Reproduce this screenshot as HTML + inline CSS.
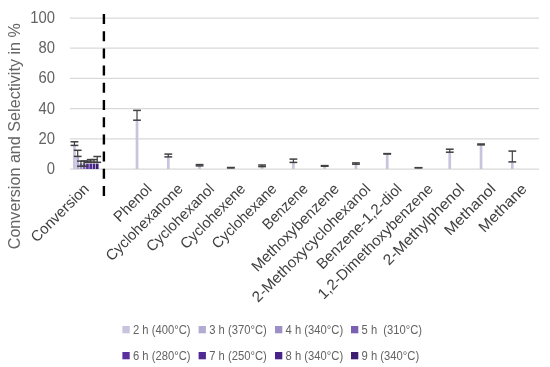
<!DOCTYPE html>
<html><head><meta charset="utf-8"><style>
html,body{margin:0;padding:0;background:#fff;}
svg{display:block;}
text{filter:grayscale(1);}
text{font-family:"Liberation Sans",sans-serif;fill:#595959;}
.tk{font-size:16px;fill:#636363;}
.yt{font-size:16px;fill:#666;}
.cl{font-size:15px;fill:#404040;}
.lg{font-size:12px;fill:#636363;}
</style></head><body>
<svg width="550" height="367" viewBox="0 0 550 367">
<rect width="550" height="367" fill="#fff"/>
<line x1="69.90" y1="18.00" x2="539.02" y2="18.00" stroke="#d9d9d9" stroke-width="1.25"/>
<line x1="69.90" y1="48.20" x2="539.02" y2="48.20" stroke="#d9d9d9" stroke-width="1.25"/>
<line x1="69.90" y1="78.40" x2="539.02" y2="78.40" stroke="#d9d9d9" stroke-width="1.25"/>
<line x1="69.90" y1="108.60" x2="539.02" y2="108.60" stroke="#d9d9d9" stroke-width="1.25"/>
<line x1="69.90" y1="138.80" x2="539.02" y2="138.80" stroke="#d9d9d9" stroke-width="1.25"/>
<line x1="69.90" y1="169.00" x2="539.02" y2="169.00" stroke="#d9d9d9" stroke-width="1.25"/>
<text x="55.0" y="23.00" text-anchor="end" class="tk" textLength="24.71" lengthAdjust="spacingAndGlyphs">100</text>
<text x="55.0" y="53.20" text-anchor="end" class="tk" textLength="16.47" lengthAdjust="spacingAndGlyphs">80</text>
<text x="55.0" y="83.40" text-anchor="end" class="tk" textLength="16.47" lengthAdjust="spacingAndGlyphs">60</text>
<text x="55.0" y="113.60" text-anchor="end" class="tk" textLength="16.47" lengthAdjust="spacingAndGlyphs">40</text>
<text x="55.0" y="143.80" text-anchor="end" class="tk" textLength="16.47" lengthAdjust="spacingAndGlyphs">20</text>
<text x="55.0" y="174.00" text-anchor="end" class="tk" textLength="8.24" lengthAdjust="spacingAndGlyphs">0</text>
<rect x="73.11" y="145.60" width="2.70" height="23.40" fill="#c8c4dd"/>
<rect x="76.36" y="156.60" width="2.70" height="12.40" fill="#b3acd2"/>
<rect x="79.61" y="163.40" width="2.70" height="5.60" fill="#9b8fc5"/>
<rect x="82.86" y="163.40" width="2.70" height="5.60" fill="#7a60b1"/>
<rect x="86.11" y="163.60" width="2.70" height="5.40" fill="#5b2f9d"/>
<rect x="89.36" y="163.60" width="2.70" height="5.40" fill="#512995"/>
<rect x="92.61" y="163.60" width="2.70" height="5.40" fill="#48248a"/>
<rect x="95.86" y="163.60" width="2.70" height="5.40" fill="#3c1d70"/>
<line x1="74.46" y1="141.80" x2="74.46" y2="145.40" stroke="#404040" stroke-width="1.2"/>
<line x1="70.56" y1="141.80" x2="78.36" y2="141.80" stroke="#404040" stroke-width="1.5"/>
<line x1="70.56" y1="145.40" x2="78.36" y2="145.40" stroke="#404040" stroke-width="1.5"/>
<line x1="77.71" y1="150.30" x2="77.71" y2="156.40" stroke="#404040" stroke-width="1.2"/>
<line x1="73.81" y1="150.30" x2="81.61" y2="150.30" stroke="#404040" stroke-width="1.5"/>
<line x1="73.81" y1="156.40" x2="81.61" y2="156.40" stroke="#404040" stroke-width="1.5"/>
<line x1="80.96" y1="161.10" x2="80.96" y2="166.20" stroke="#404040" stroke-width="1.2"/>
<line x1="77.06" y1="161.10" x2="84.86" y2="161.10" stroke="#404040" stroke-width="1.5"/>
<line x1="77.06" y1="166.20" x2="84.86" y2="166.20" stroke="#404040" stroke-width="1.5"/>
<line x1="84.21" y1="161.10" x2="84.21" y2="166.20" stroke="#404040" stroke-width="1.2"/>
<line x1="80.31" y1="161.10" x2="88.11" y2="161.10" stroke="#404040" stroke-width="1.5"/>
<line x1="80.31" y1="166.20" x2="88.11" y2="166.20" stroke="#404040" stroke-width="1.5"/>
<line x1="87.46" y1="161.10" x2="87.46" y2="162.30" stroke="#404040" stroke-width="1.2"/>
<line x1="83.56" y1="161.10" x2="91.36" y2="161.10" stroke="#404040" stroke-width="1.5"/>
<line x1="83.56" y1="162.30" x2="91.36" y2="162.30" stroke="#404040" stroke-width="1.5"/>
<line x1="90.71" y1="159.60" x2="90.71" y2="162.30" stroke="#404040" stroke-width="1.2"/>
<line x1="86.81" y1="159.60" x2="94.61" y2="159.60" stroke="#404040" stroke-width="1.5"/>
<line x1="86.81" y1="162.30" x2="94.61" y2="162.30" stroke="#404040" stroke-width="1.5"/>
<line x1="93.96" y1="159.60" x2="93.96" y2="162.30" stroke="#404040" stroke-width="1.2"/>
<line x1="90.06" y1="159.60" x2="97.86" y2="159.60" stroke="#404040" stroke-width="1.5"/>
<line x1="90.06" y1="162.30" x2="97.86" y2="162.30" stroke="#404040" stroke-width="1.5"/>
<line x1="97.21" y1="156.50" x2="97.21" y2="162.30" stroke="#404040" stroke-width="1.2"/>
<line x1="93.31" y1="156.50" x2="101.11" y2="156.50" stroke="#404040" stroke-width="1.5"/>
<line x1="93.31" y1="162.30" x2="101.11" y2="162.30" stroke="#404040" stroke-width="1.5"/>
<rect x="135.66" y="120.50" width="2.70" height="48.50" fill="#c8c4dd"/>
<line x1="137.01" y1="110.40" x2="137.01" y2="120.20" stroke="#404040" stroke-width="1.2"/>
<line x1="133.11" y1="110.40" x2="140.91" y2="110.40" stroke="#404040" stroke-width="1.5"/>
<line x1="133.11" y1="120.20" x2="140.91" y2="120.20" stroke="#404040" stroke-width="1.5"/>
<rect x="166.94" y="157.30" width="2.70" height="11.70" fill="#c8c4dd"/>
<line x1="168.29" y1="154.10" x2="168.29" y2="156.90" stroke="#404040" stroke-width="1.2"/>
<line x1="164.39" y1="154.10" x2="172.19" y2="154.10" stroke="#404040" stroke-width="1.5"/>
<line x1="164.39" y1="156.90" x2="172.19" y2="156.90" stroke="#404040" stroke-width="1.5"/>
<rect x="198.21" y="166.30" width="2.70" height="2.70" fill="#c8c4dd"/>
<line x1="199.56" y1="164.60" x2="199.56" y2="165.90" stroke="#404040" stroke-width="1.2"/>
<line x1="195.66" y1="164.60" x2="203.46" y2="164.60" stroke="#404040" stroke-width="1.5"/>
<line x1="195.66" y1="165.90" x2="203.46" y2="165.90" stroke="#404040" stroke-width="1.5"/>
<rect x="229.49" y="168.20" width="2.70" height="0.80" fill="#c8c4dd"/>
<line x1="230.84" y1="167.50" x2="230.84" y2="167.90" stroke="#404040" stroke-width="1.2"/>
<line x1="226.94" y1="167.50" x2="234.74" y2="167.50" stroke="#404040" stroke-width="1.5"/>
<line x1="226.94" y1="167.90" x2="234.74" y2="167.90" stroke="#404040" stroke-width="1.5"/>
<rect x="260.76" y="166.90" width="2.70" height="2.10" fill="#c8c4dd"/>
<line x1="262.11" y1="165.00" x2="262.11" y2="166.60" stroke="#404040" stroke-width="1.2"/>
<line x1="258.21" y1="165.00" x2="266.01" y2="165.00" stroke="#404040" stroke-width="1.5"/>
<line x1="258.21" y1="166.60" x2="266.01" y2="166.60" stroke="#404040" stroke-width="1.5"/>
<rect x="292.04" y="162.80" width="2.70" height="6.20" fill="#c8c4dd"/>
<line x1="293.39" y1="159.10" x2="293.39" y2="162.40" stroke="#404040" stroke-width="1.2"/>
<line x1="289.49" y1="159.10" x2="297.29" y2="159.10" stroke="#404040" stroke-width="1.5"/>
<line x1="289.49" y1="162.40" x2="297.29" y2="162.40" stroke="#404040" stroke-width="1.5"/>
<rect x="323.31" y="166.60" width="2.70" height="2.40" fill="#c8c4dd"/>
<line x1="324.66" y1="165.60" x2="324.66" y2="166.20" stroke="#404040" stroke-width="1.2"/>
<line x1="320.76" y1="165.60" x2="328.56" y2="165.60" stroke="#404040" stroke-width="1.5"/>
<line x1="320.76" y1="166.20" x2="328.56" y2="166.20" stroke="#404040" stroke-width="1.5"/>
<rect x="354.59" y="164.60" width="2.70" height="4.40" fill="#c8c4dd"/>
<line x1="355.94" y1="162.90" x2="355.94" y2="164.20" stroke="#404040" stroke-width="1.2"/>
<line x1="352.04" y1="162.90" x2="359.84" y2="162.90" stroke="#404040" stroke-width="1.5"/>
<line x1="352.04" y1="164.20" x2="359.84" y2="164.20" stroke="#404040" stroke-width="1.5"/>
<rect x="385.86" y="154.40" width="2.70" height="14.60" fill="#c8c4dd"/>
<line x1="387.21" y1="153.60" x2="387.21" y2="154.00" stroke="#404040" stroke-width="1.2"/>
<line x1="383.31" y1="153.60" x2="391.11" y2="153.60" stroke="#404040" stroke-width="1.5"/>
<line x1="383.31" y1="154.00" x2="391.11" y2="154.00" stroke="#404040" stroke-width="1.5"/>
<rect x="417.14" y="168.20" width="2.70" height="0.80" fill="#c8c4dd"/>
<line x1="418.49" y1="167.70" x2="418.49" y2="167.70" stroke="#404040" stroke-width="1.2"/>
<line x1="414.59" y1="167.70" x2="422.39" y2="167.70" stroke="#404040" stroke-width="1.5"/>
<line x1="414.59" y1="167.70" x2="422.39" y2="167.70" stroke="#404040" stroke-width="1.5"/>
<rect x="448.41" y="152.60" width="2.70" height="16.40" fill="#c8c4dd"/>
<line x1="449.76" y1="149.20" x2="449.76" y2="152.20" stroke="#404040" stroke-width="1.2"/>
<line x1="445.86" y1="149.20" x2="453.66" y2="149.20" stroke="#404040" stroke-width="1.5"/>
<line x1="445.86" y1="152.20" x2="453.66" y2="152.20" stroke="#404040" stroke-width="1.5"/>
<rect x="479.69" y="145.30" width="2.70" height="23.70" fill="#c8c4dd"/>
<line x1="481.04" y1="144.00" x2="481.04" y2="144.90" stroke="#404040" stroke-width="1.2"/>
<line x1="477.14" y1="144.00" x2="484.94" y2="144.00" stroke="#404040" stroke-width="1.5"/>
<line x1="477.14" y1="144.90" x2="484.94" y2="144.90" stroke="#404040" stroke-width="1.5"/>
<rect x="510.96" y="162.30" width="2.70" height="6.70" fill="#c8c4dd"/>
<line x1="512.31" y1="151.10" x2="512.31" y2="161.90" stroke="#404040" stroke-width="1.2"/>
<line x1="508.41" y1="151.10" x2="516.21" y2="151.10" stroke="#404040" stroke-width="1.5"/>
<line x1="508.41" y1="161.90" x2="516.21" y2="161.90" stroke="#404040" stroke-width="1.5"/>
<line x1="103.9" y1="14" x2="103.9" y2="197" stroke="#000" stroke-width="2.4" stroke-dasharray="10 7.2"/>
<text transform="translate(20.2,136.2) rotate(-90)" text-anchor="middle" class="yt" textLength="226.18" lengthAdjust="spacingAndGlyphs">Conversion and Selectivity in %</text>
<text transform="translate(89.94,189.80) rotate(-45)" text-anchor="end" class="cl" textLength="75.19" lengthAdjust="spacingAndGlyphs">Conversion</text>
<text transform="translate(152.49,189.80) rotate(-45)" text-anchor="end" class="cl" textLength="46.56" lengthAdjust="spacingAndGlyphs">Phenol</text>
<text transform="translate(183.76,189.80) rotate(-45)" text-anchor="end" class="cl" textLength="101.91" lengthAdjust="spacingAndGlyphs">Cyclohexanone</text>
<text transform="translate(215.04,189.80) rotate(-45)" text-anchor="end" class="cl" textLength="88.82" lengthAdjust="spacingAndGlyphs">Cyclohexanol</text>
<text transform="translate(246.31,189.80) rotate(-45)" text-anchor="end" class="cl" textLength="84.84" lengthAdjust="spacingAndGlyphs">Cyclohexene</text>
<text transform="translate(277.59,189.80) rotate(-45)" text-anchor="end" class="cl" textLength="84.54" lengthAdjust="spacingAndGlyphs">Cyclohexane</text>
<text transform="translate(308.86,189.80) rotate(-45)" text-anchor="end" class="cl" textLength="57.46" lengthAdjust="spacingAndGlyphs">Benzene</text>
<text transform="translate(340.14,189.80) rotate(-45)" text-anchor="end" class="cl" textLength="116.98" lengthAdjust="spacingAndGlyphs">Methoxybenzene</text>
<text transform="translate(371.41,189.80) rotate(-45)" text-anchor="end" class="cl" textLength="160.24" lengthAdjust="spacingAndGlyphs">2-Methoxycyclohexanol</text>
<text transform="translate(402.69,189.80) rotate(-45)" text-anchor="end" class="cl" textLength="113.35" lengthAdjust="spacingAndGlyphs">Benzene-1,2-diol</text>
<text transform="translate(433.96,189.80) rotate(-45)" text-anchor="end" class="cl" textLength="155.89" lengthAdjust="spacingAndGlyphs">1,2-Dimethoxybenzene</text>
<text transform="translate(465.24,189.80) rotate(-45)" text-anchor="end" class="cl" textLength="107.89" lengthAdjust="spacingAndGlyphs">2-Methylphenol</text>
<text transform="translate(496.51,189.80) rotate(-45)" text-anchor="end" class="cl" textLength="65.57" lengthAdjust="spacingAndGlyphs">Methanol</text>
<text transform="translate(527.79,189.80) rotate(-45)" text-anchor="end" class="cl" textLength="61.29" lengthAdjust="spacingAndGlyphs">Methane</text>
<rect x="122.40" y="326.00" width="7.3" height="7.3" fill="#c8c4dd"/>
<text x="133.00" y="334.00" class="lg" textLength="57.56" lengthAdjust="spacingAndGlyphs">2 h (400°C)</text>
<rect x="198.60" y="326.00" width="7.3" height="7.3" fill="#b3acd2"/>
<text x="209.20" y="334.00" class="lg" textLength="57.56" lengthAdjust="spacingAndGlyphs">3 h (370°C)</text>
<rect x="275.00" y="326.00" width="7.3" height="7.3" fill="#9b8fc5"/>
<text x="285.60" y="334.00" class="lg" textLength="57.56" lengthAdjust="spacingAndGlyphs">4 h (340°C)</text>
<rect x="351.00" y="326.00" width="7.3" height="7.3" fill="#7a60b1"/>
<text x="361.60" y="334.00" class="lg" textLength="60.47" lengthAdjust="spacingAndGlyphs">5 h&#160; (310°C)</text>
<rect x="122.40" y="352.00" width="7.3" height="7.3" fill="#5b2f9d"/>
<text x="133.00" y="360.00" class="lg" textLength="57.56" lengthAdjust="spacingAndGlyphs">6 h (280°C)</text>
<rect x="198.60" y="352.00" width="7.3" height="7.3" fill="#512995"/>
<text x="209.20" y="360.00" class="lg" textLength="57.56" lengthAdjust="spacingAndGlyphs">7 h (250°C)</text>
<rect x="275.00" y="352.00" width="7.3" height="7.3" fill="#48248a"/>
<text x="285.60" y="360.00" class="lg" textLength="57.56" lengthAdjust="spacingAndGlyphs">8 h (340°C)</text>
<rect x="351.00" y="352.00" width="7.3" height="7.3" fill="#3c1d70"/>
<text x="361.60" y="360.00" class="lg" textLength="57.56" lengthAdjust="spacingAndGlyphs">9 h (340°C)</text>
</svg>
</body></html>
